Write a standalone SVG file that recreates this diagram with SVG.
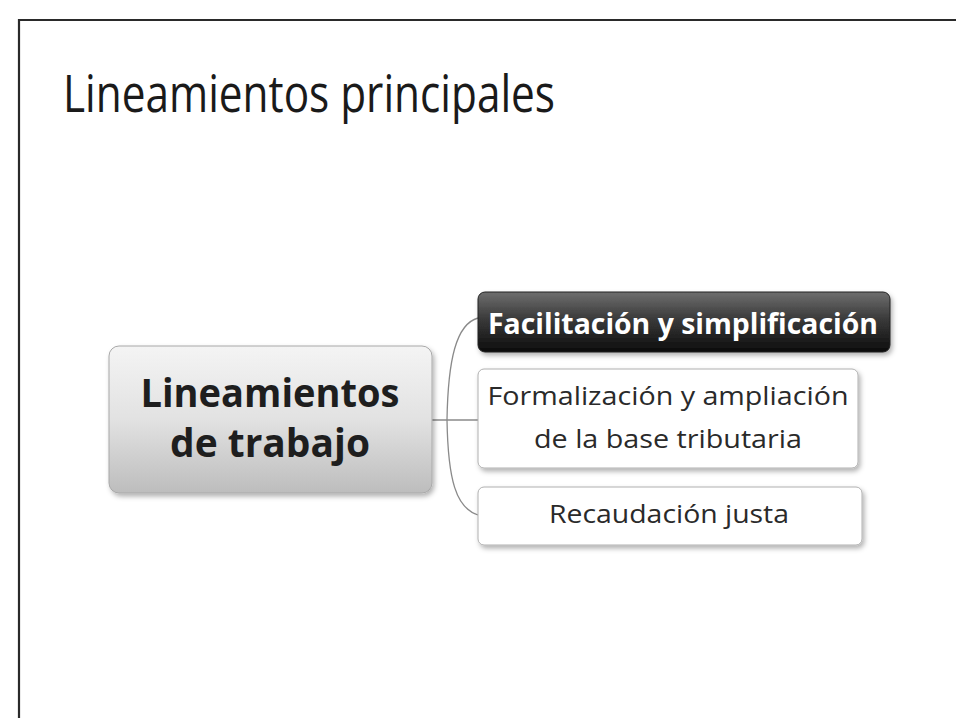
<svg xmlns="http://www.w3.org/2000/svg" width="956" height="718" viewBox="0 0 956 718">
<style>
  .title { font-family: "Open Sans", "Liberation Sans", sans-serif; font-size: 51px; fill: #1a1a1a; }
  .center { font-family: "Open Sans", "Liberation Sans", sans-serif; font-size: 39px; font-weight: bold; fill: #1e1e1e; text-anchor: middle; }
  .dark { font-family: "Open Sans", "Liberation Sans", sans-serif; font-size: 28px; font-weight: bold; fill: #ffffff; text-anchor: middle; }
  .light { font-family: "Open Sans", "Liberation Sans", sans-serif; font-size: 25px; fill: #2a2a2a; text-anchor: middle; }
  .conn { fill: none; stroke: #8a8a8a; stroke-width: 1.3; }
</style>
<defs>
  <linearGradient id="gCenter" x1="0" y1="0" x2="0" y2="1">
    <stop offset="0" stop-color="#f4f4f4"/>
    <stop offset="0.5" stop-color="#e2e2e2"/>
    <stop offset="1" stop-color="#bdbdbd"/>
  </linearGradient>
  <linearGradient id="gDark" x1="0" y1="0" x2="0" y2="1">
    <stop offset="0" stop-color="#6e6e6e"/>
    <stop offset="0.45" stop-color="#3a3a3a"/>
    <stop offset="1" stop-color="#0c0c0c"/>
  </linearGradient>
  <filter id="sh" x="-10%" y="-20%" width="125%" height="150%">
    <feDropShadow dx="2" dy="3" stdDeviation="2.5" flood-color="#000" flood-opacity="0.3"/>
  </filter>
</defs>
<rect width="956" height="718" fill="#ffffff"/>
<path d="M19,718 L19,20 L956,20" fill="none" stroke="#2a2a2a" stroke-width="2.2"/>
<text class="title" x="63" y="112" textLength="492" lengthAdjust="spacingAndGlyphs">Lineamientos principales</text>
<g id="connectors">
  <line class="conn" x1="432" y1="420" x2="478" y2="420"/>
  <path class="conn" d="M478,318 C456,324 448,360 447,420 C448,480 456,508 478,515"/>
</g>
<g id="center">
  <rect x="109" y="346" width="323" height="147" rx="10" fill="url(#gCenter)" stroke="#a8a8a8" stroke-width="1" filter="url(#sh)"/>
  <text class="center" x="270" y="407" textLength="259" lengthAdjust="spacingAndGlyphs">Lineamientos</text>
  <text class="center" x="270" y="457" textLength="200" lengthAdjust="spacingAndGlyphs">de trabajo</text>
</g>
<g id="facilitacion">
  <rect x="478" y="292" width="412" height="60" rx="7" fill="url(#gDark)" stroke="#222" stroke-width="1" filter="url(#sh)"/>
  <text class="dark" x="683" y="334" textLength="390" lengthAdjust="spacingAndGlyphs">Facilitación y simplificación</text>
</g>
<g id="formalizacion">
  <rect x="478" y="369" width="380" height="99" rx="6" fill="#ffffff" stroke="#b0b0b0" stroke-width="1" filter="url(#sh)"/>
  <text class="light" x="668" y="405" textLength="361" lengthAdjust="spacingAndGlyphs">Formalización y ampliación</text>
  <text class="light" x="668" y="448" textLength="268" lengthAdjust="spacingAndGlyphs">de la base tributaria</text>
</g>
<g id="recaudacion">
  <rect x="478" y="487" width="384" height="58" rx="6" fill="#ffffff" stroke="#b0b0b0" stroke-width="1" filter="url(#sh)"/>
  <text class="light" x="669" y="523" textLength="240" lengthAdjust="spacingAndGlyphs">Recaudación justa</text>
</g>
</svg>
